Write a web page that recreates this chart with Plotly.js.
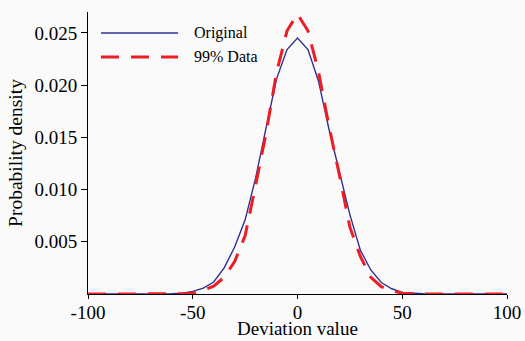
<!DOCTYPE html>
<html>
<head>
<meta charset="utf-8">
<script src="https://cdn.plot.ly/plotly-3.0.1.min.js"></script>
<style>
html,body{margin:0;padding:0;background:#fafafa;}
#chart{width:525px;height:341px;}
</style>
</head>
<body>
<div id="chart"></div>
<script>
var deviation = [-100,-95,-90,-85,-80,-75,-70,-65,-60,-55,-50,-45,-40,-35,-30,-25,-20,-15,-10,-5,0,5,10,15,20,25,30,35,40,45,50,55,60,65,70,75,80,85,90,95,100];
var originalDensity = [0,0,0,0,0,0,0,0.00001,0.00002,0.00008,0.00025,0.00057,0.00115,0.0025,0.0045,0.0071,0.0111,0.0159,0.0206,0.0234,0.0245,0.0234,0.0204,0.0158,0.0117,0.0076,0.0042,0.0023,0.0011,0.0005,0.00015,0.00006,0.00002,0.00001,0,0,0,0,0,0,0];
var data99Density = [0,0,0,0,0,0,0,0,0,0.00002,0.00008,0.00035,0.00075,0.0016,0.0031,0.0056,0.0104,0.0154,0.0212,0.0252,0.0268,0.0252,0.0213,0.0161,0.0114,0.0064,0.0036,0.0016,0.0007,0.0003,0.00008,0.00002,0,0,0,0,0,0,0,0,0];
var seriesNames = ["Original", "99% Data"];
var xTicks = [-100,-50,0,50,100];
var yTicks = [0.005,0.010,0.015,0.020,0.025];
var xTitle = "Deviation value";
var yTitle = "Probability density";

var blue = "#2e3192", red = "#ee1c25";
var fontFam = "Liberation Serif, Times New Roman, serif";

var traces = [
  {x: deviation, y: originalDensity, mode: "lines", name: seriesNames[0],
   line: {color: blue, width: 1.4}, showlegend: false},
  {x: deviation, y: data99Density, mode: "lines", name: seriesNames[1],
   line: {color: red, width: 3, dash: "18px,12px"}, showlegend: false}
];

var legY = [0.9257, 0.8407];
var layout = {
  width: 525, height: 341,
  margin: {l: 88, r: 18, t: 12, b: 46.5},
  paper_bgcolor: "#fafafa", plot_bgcolor: "#fafafa",
  font: {family: fontFam, color: "#000", size: 19},
  showlegend: false,
  xaxis: {
    range: [-100, 100], tickvals: xTicks, ticktext: xTicks.map(String),
    ticks: "outside", ticklen: 4, tickwidth: 1, tickcolor: "#000",
    showline: true, linecolor: "#000", linewidth: 1,
    showgrid: false, zeroline: false, ticklabelstandoff: -3,
    tickfont: {size: 19, family: fontFam}
  },
  yaxis: {
    range: [0, 0.027], tickvals: yTicks, ticktext: yTicks.map(function(v){return v.toFixed(3);}),
    ticks: "outside", ticklen: 6, tickwidth: 1, tickcolor: "#000",
    showline: true, linecolor: "#000", linewidth: 1,
    showgrid: false, zeroline: false,
    tickfont: {size: 19, family: fontFam},
    title: {text: yTitle, font: {size: 19.5, family: fontFam}, standoff: 6}
  },
  shapes: [
    {type: "line", xref: "paper", yref: "paper", x0: 0.031, x1: 0.215, y0: legY[0], y1: legY[0],
     line: {color: blue, width: 1.4}},
    {type: "line", xref: "paper", yref: "paper", x0: 0.031, x1: 0.215, y0: legY[1], y1: legY[1],
     line: {color: red, width: 3, dash: "18px,12px"}}
  ],
  annotations: [
    {xref: "paper", yref: "paper", x: 0.248, y: legY[0], text: seriesNames[0], showarrow: false,
     xanchor: "left", yanchor: "middle", font: {size: 16, family: fontFam, color: "#000"}},
    {xref: "paper", yref: "paper", x: 0.248, y: legY[1], text: seriesNames[1], showarrow: false,
     xanchor: "left", yanchor: "middle", font: {size: 16, family: fontFam, color: "#000"}},
    {xref: "paper", yref: "paper", x: 0.5, y: -0.1646, text: xTitle, showarrow: false,
     xanchor: "center", yanchor: "bottom", borderpad: 0,
     font: {size: 19, family: fontFam, color: "#000"}}
  ]
};

Plotly.newPlot("chart", traces, layout, {displayModeBar: false, staticPlot: true});
</script>
</body>
</html>
